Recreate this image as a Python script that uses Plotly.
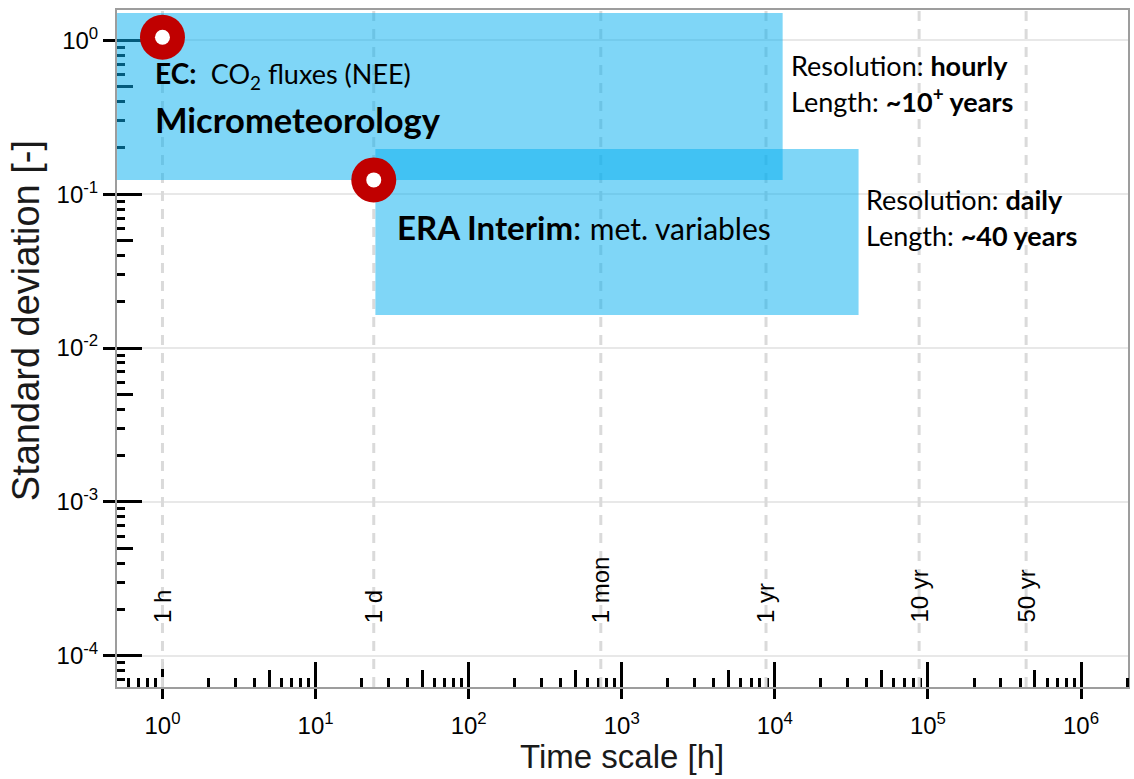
import plotly.graph_objects as go
import math

# ---------------- data ----------------
x_major = [1, 10, 100, 1000, 1e4, 1e5, 1e6]
x_major_text = ["10<sup>0</sup>", "10<sup>1</sup>", "10<sup>2</sup>", "10<sup>3</sup>",
                "10<sup>4</sup>", "10<sup>5</sup>", "10<sup>6</sup>"]
y_major = [1e-4, 1e-3, 1e-2, 1e-1, 1]
y_major_text = ["10<sup>-4</sup>", "10<sup>-3</sup>", "10<sup>-2</sup>", "10<sup>-1</sup>", "10<sup>0</sup>"]

# reference time scales [h]
ref_names = ["1 h", "1 d", "1 mon", "1 yr", "10 yr", "50 yr"]
ref_hours = [1, 24, 730, 8760, 87600, 438000]

# data-set boxes: time-scale span [h] and std-dev span [-]
ec_x = [0.505, 11250]
ec_y = [0.124, 1.51]
era_x = [24.6, 35240]
era_y = [0.0164, 0.197]

# starting points (resolution, std)
pt_x = [1.0, 24.0]
pt_y = [1.05, 0.124]

x_range_log = [-0.297, 6.307]
y_range_log = [-4.2035, 0.198]

# ---------------- figure ----------------
fig = go.Figure()

ylo, yhi = 10 ** y_range_log[0], 10 ** y_range_log[1]
for v in ref_hours:
    fig.add_trace(go.Scatter(x=[v, v], y=[ylo, yhi], mode="lines",
                             line=dict(color="#dadada", width=3, dash="10px,8px"),
                             hoverinfo="skip", showlegend=False))

box_fill = "rgba(7,176,240,0.516)"
for bx, by in [(ec_x, ec_y), (era_x, era_y)]:
    fig.add_trace(go.Scatter(x=[bx[0], bx[1], bx[1], bx[0], bx[0]],
                             y=[by[0], by[0], by[1], by[1], by[0]],
                             mode="lines", fill="toself", fillcolor=box_fill,
                             line=dict(width=0), hoverinfo="skip", showlegend=False))

fig.add_trace(go.Scatter(x=pt_x, y=pt_y, mode="markers",
                         marker=dict(size=45, color="#C00000", line=dict(width=0)),
                         showlegend=False, hoverinfo="skip"))
fig.add_trace(go.Scatter(x=pt_x, y=pt_y, mode="markers",
                         marker=dict(size=15, color="white", line=dict(width=0)),
                         showlegend=False, hoverinfo="skip"))

# invisible trace for overlay axes (crossing tick parts)
fig.add_trace(go.Scatter(x=pt_x, y=pt_y, xaxis="x2", yaxis="y2", mode="markers",
                         marker=dict(size=1, opacity=0), showlegend=False, hoverinfo="skip"))

def minor_vals(lo_exp, hi_exp, mults, lo, hi):
    out = []
    for e in range(lo_exp, hi_exp + 1):
        for m in mults:
            v = m * 10 ** e
            if lo <= v <= hi:
                out.append(v)
    return out

xlo, xhi = 10 ** x_range_log[0], 10 ** x_range_log[1]
x_minor_small = minor_vals(-1, 6, [2, 3, 4, 6, 7, 8, 9], xlo, xhi)
x_minor_five = minor_vals(-1, 6, [5], xlo * 1.01, xhi)
y_minor_small = minor_vals(-5, 0, [2, 3, 4, 6, 7, 8, 9], ylo, yhi)
y_minor_five = minor_vals(-5, 0, [5], ylo, yhi)

arial = "Liberation Sans, Arial, sans-serif"
tick_font = dict(family=arial, size=24, color="black")
frame = "#9d9d9d"

fig.update_layout(
    width=1134, height=779,
    margin=dict(l=117, r=4, t=10, b=92),
    paper_bgcolor="white", plot_bgcolor="white",
    showlegend=False,
    xaxis=dict(type="log", range=x_range_log, tickmode="array", tickvals=x_major,
               ticktext=x_major_text, ticks="outside", ticklen=10, tickwidth=3,
               tickcolor="black", showgrid=False, zeroline=False,
               showline=True, linecolor=frame, linewidth=2, mirror=True,
               tickfont=tick_font, layer="below traces", ticklabelstandoff=6,
               minor=dict(tickmode="array", tickvals=x_minor_small, ticks="inside",
                          ticklen=9, tickwidth=3, tickcolor="black", showgrid=False)),
    yaxis=dict(type="log", range=y_range_log, tickmode="array", tickvals=y_major,
               ticktext=y_major_text, ticks="outside", ticklen=12, tickwidth=3,
               tickcolor="black", showgrid=True, gridcolor="#e8e8e8", gridwidth=2,
               zeroline=False, showline=True, linecolor=frame, linewidth=2, mirror=True,
               tickfont=tick_font, layer="below traces",
               minor=dict(tickmode="array", tickvals=y_minor_small, ticks="inside",
                          ticklen=8, tickwidth=3, tickcolor="black", showgrid=False)),
    xaxis2=dict(type="log", range=x_range_log, overlaying="x", anchor="y2", side="bottom",
                tickmode="array", tickvals=x_major, ticks="inside", ticklen=25, tickwidth=3,
                tickcolor="black", showticklabels=False, showgrid=False, zeroline=False,
                showline=False, layer="below traces",
                minor=dict(tickmode="array", tickvals=x_minor_five, ticks="inside",
                           ticklen=17, tickwidth=3, tickcolor="black", showgrid=False)),
    yaxis2=dict(type="log", range=y_range_log, overlaying="y", anchor="x2", side="left",
                tickmode="array", tickvals=y_major, ticks="inside", ticklen=25, tickwidth=3,
                tickcolor="black", showticklabels=False, showgrid=False, zeroline=False,
                showline=False, layer="below traces",
                minor=dict(tickmode="array", tickvals=y_minor_five, ticks="inside",
                           ticklen=16, tickwidth=3, tickcolor="black", showgrid=False)),
)

ann = []
# reference time-scale labels
for name, v in zip(ref_names, ref_hours):
    ann.append(dict(x=math.log10(v), y=-3.80, xref="x", yref="y", text=name,
                    textangle=-90, showarrow=False, xanchor="center", yanchor="bottom",
                    font=dict(family=arial, size=24, color="black")))

cal = "Lato, Carlito, Calibri, sans-serif"
ann += [
    dict(x=-0.062, y=-0.224, text="<b>EC:</b>  <span style='font-size:27px'>CO<sub>2</sub> fluxes (NEE)</span>",
         font=dict(family=cal, size=28, color="black")),
    dict(x=-0.062, y=-0.515, text="<b>Micrometeorology</b>",
         font=dict(family=cal, size=34.5, color="black")),
    dict(x=4.091, y=-0.166, text="Resolution: <b>hourly</b>",
         font=dict(family=cal, size=27, color="black")),
    dict(x=4.091, y=-0.385, text="Length: <b>~10<sup>+</sup> years</b>",
         font=dict(family=cal, size=27, color="black")),
    dict(x=4.580, y=-1.037, text="Resolution: <b>daily</b>",
         font=dict(family=cal, size=27, color="black")),
    dict(x=4.580, y=-1.271, text="Length: <b>~40 years</b>",
         font=dict(family=cal, size=27, color="black")),
    dict(x=1.522, y=-1.21, text="<b>ERA Interim</b>: <span style='font-size:30px'>met. variables</span>",
         font=dict(family=cal, size=33, color="black")),
]
for a in ann[len(ref_names):]:
    a.update(xref="x", yref="y", showarrow=False, xanchor="left", yanchor="middle")

# axis titles (positions given in pixels, converted to paper coords)
titles = [
    dict(px=623, py=757, text="Time scale [h]", textangle=0, size=33),
    dict(px=26, py=321, text="Standard deviation [-]", textangle=-90, size=38),
]
for t in titles:
    ann.append(dict(x=(t["px"] - 117) / 1013, y=(687 - t["py"]) / 677,
                    xref="paper", yref="paper", text=t["text"], textangle=t["textangle"],
                    showarrow=False, xanchor="center", yanchor="middle",
                    font=dict(family=arial, size=t["size"], color="#1a1a1a")))

fig.update_layout(annotations=ann)
fig.write_html("out.html")
